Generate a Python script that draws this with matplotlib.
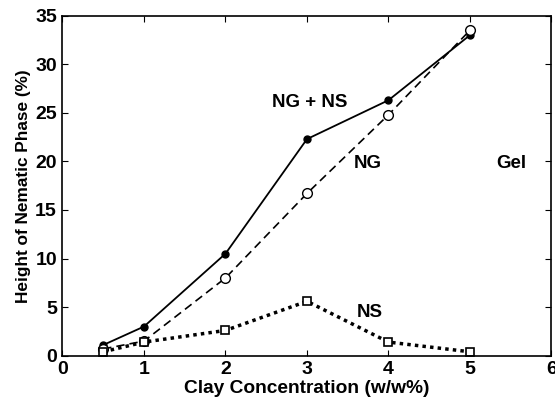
import matplotlib
matplotlib.use("Agg")
import matplotlib.pyplot as plt

plt.rcParams["font.family"] = ["Liberation Sans", "DejaVu Sans"]
plt.rcParams["font.weight"] = "bold"

clay = [0.5, 1, 2, 3, 4, 5]
ng_ns = [1.1, 3.0, 10.5, 22.3, 26.3, 33.0]
ng = [0.7, 1.5, 8.0, 16.7, 24.8, 33.5]
ns = [0.4, 1.4, 2.6, 5.6, 1.4, 0.4]

fig = plt.figure(figsize=(5.55, 4.03), dpi=100)
ax = fig.add_axes([0.1126, 0.1174, 0.881, 0.8436])

ax.plot(clay, ng_ns, color="black", linestyle="-", linewidth=1.3,
        marker="o", markersize=5, markerfacecolor="black")
ax.plot(clay, ng, color="black", linestyle=(0, (5, 3)), linewidth=1.2,
        marker="o", markersize=7, markerfacecolor="white", markeredgewidth=1.0)
ax.plot(clay, ns, color="black", linestyle=(0, (1, 1.2)), linewidth=2.5,
        marker="s", markersize=6, markerfacecolor="white", markeredgewidth=1.2)

ax.text(2.57, 26.1, "NG + NS", fontsize=13.5, fontweight="bold", va="center")
ax.text(3.75, 19.8, "NG", fontsize=13.5, fontweight="bold", ha="center", va="center")
ax.text(5.51, 19.8, "Gel", fontsize=13.5, fontweight="bold", ha="center", va="center")
ax.text(3.77, 4.4, "NS", fontsize=13.5, fontweight="bold", ha="center", va="center")

ax.set_xlim(0, 6)
ax.set_ylim(0, 35)
ax.set_xticks(range(0, 7))
ax.set_yticks(range(0, 36, 5))
ax.tick_params(direction="in", top=True, right=True, labelsize=14, length=4, pad=4)
for lbl in ax.get_xticklabels() + ax.get_yticklabels():
    lbl.set_fontweight("bold")
for s in ax.spines.values():
    s.set_linewidth(1.2)

ax.set_xlabel("Clay Concentration (w/w%)", fontsize=13.8, fontweight="bold", labelpad=1)
ax.set_ylabel("Height of Nematic Phase (%)", fontsize=12.4, fontweight="bold", labelpad=3)

fig.savefig("out.png", dpi=100)
